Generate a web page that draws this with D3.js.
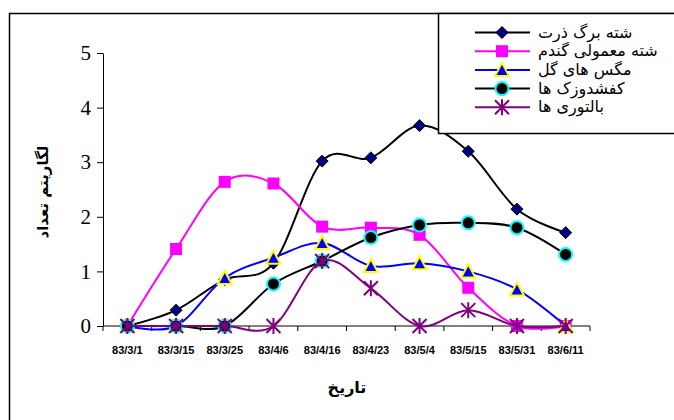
<!DOCTYPE html>
<html>
<head>
<meta charset="utf-8">
<script src="https://d3js.org/d3.v7.min.js"></script>
<style>
  body { margin: 0; background: #fff; }
  svg { display: block; }
</style>
</head>
<body>
<svg></svg>
<script>
// dates (Persian calendar) along the x axis
var dates = ['83/3/1', '83/3/15', '83/3/25', '83/4/6', '83/4/16', '83/4/23', '83/5/4', '83/5/15', '83/5/31', '83/6/11'];

// log of counts for each group
var shetehBargZorrat = [0, 0.29, 0.85, 1.15, 3.02, 3.08, 3.67, 3.2, 2.14, 1.71];
var shetehMamooliGandom = [0, 1.41, 2.64, 2.61, 1.82, 1.8, 1.67, 0.7, 0, 0];
var magasHayeGol = [0, 0, 0.88, 1.25, 1.52, 1.1, 1.15, 1.0, 0.67, 0];
var kafshdoozakHa = [0, 0, 0, 0.77, 1.19, 1.62, 1.85, 1.89, 1.8, 1.31];
var baltooriHa = [0, 0, 0, 0, 1.19, 0.69, 0, 0.29, 0, 0];

var seriesNames = ['شته برگ ذرت', 'شته معمولی گندم', 'مگس های گل', 'کفشدوزک ها', 'بالتوری ها'];
var yTicks = [0, 1, 2, 3, 4, 5];

var W = 674, H = 420;
var svg = d3.select('svg').attr('width', W).attr('height', H);

// outer chart border (right/bottom edges fall off the picture)
svg.append('rect')
  .attr('x', 9.5).attr('y', 13.5)
  .attr('width', 720).attr('height', 460)
  .attr('fill', 'none').attr('stroke', '#000').attr('stroke-width', 1.5);

var x = d3.scaleBand().domain(dates).range([103, 590]);
var y = d3.scaleLinear().domain([0, 5]).range([326, 53]);

var styles = [
  { line: '#000', marker: 'diamond', fill: '#000080', stroke: '#000' },
  { line: '#ff00ff', marker: 'square', fill: '#ff00ff', stroke: '#ff00ff' },
  { line: '#0000ff', marker: 'triangle', fill: '#0000ff', stroke: '#ffff00' },
  { line: '#000', marker: 'circle', fill: '#000', stroke: '#00ffff' },
  { line: '#800080', marker: 'star', fill: 'none', stroke: '#800080' }
];
var allSeries = [shetehBargZorrat, shetehMamooliGandom, magasHayeGol, kafshdoozakHa, baltooriHa];

// axes
var yAxis = d3.axisLeft(y).tickValues(yTicks).tickSize(6).tickSizeOuter(0).tickFormat(d3.format('d'));
var gy = svg.append('g').attr('transform', 'translate(103,0)').call(yAxis);
gy.selectAll('text')
  .attr('x', -12)
  .style('font-family', '"Liberation Serif", "Times New Roman", serif')
  .style('font-size', '21px')
  .attr('fill', '#000');

var gx = svg.append('g').attr('transform', 'translate(0,326)');
gx.append('line').attr('x1', 103).attr('x2', 590).attr('stroke', '#000');
gx.selectAll('line.tk')
  .data(dates.concat(['end']))
  .enter().append('line')
  .attr('class', 'tk')
  .attr('x1', (d, i) => 103 + i * x.step())
  .attr('x2', (d, i) => 103 + i * x.step())
  .attr('y1', 0).attr('y2', 5)
  .attr('stroke', '#000');
gx.selectAll('text')
  .data(dates)
  .enter().append('text')
  .attr('x', d => x(d) + x.bandwidth() / 2)
  .attr('y', 28)
  .attr('text-anchor', 'middle')
  .style('font-family', '"Liberation Sans", Arial, sans-serif')
  .style('font-weight', 'bold')
  .style('font-size', '11px')
  .text(d => d);

// axis titles
svg.append('text')
  .attr('x', 347).attr('y', 393)
  .attr('text-anchor', 'middle')
  .style('font-family', '"DejaVu Sans", sans-serif')
  .style('font-weight', 'bold')
  .style('font-size', '16px')
  .text('تاریخ');
svg.append('text')
  .attr('transform', 'translate(48,192) rotate(-90)')
  .attr('text-anchor', 'middle')
  .style('font-family', '"DejaVu Sans", sans-serif')
  .style('font-weight', 'bold')
  .style('font-size', '15px')
  .text('لگاریتم تعداد');

function drawMarker(g, type, s) {
  if (type === 'diamond') {
    g.append('path').attr('d', 'M0,-6L6,0L0,6L-6,0Z')
      .attr('fill', s.fill).attr('stroke', s.stroke).attr('stroke-width', 1);
  } else if (type === 'square') {
    g.append('rect').attr('x', -6).attr('y', -6).attr('width', 12).attr('height', 12)
      .attr('fill', s.fill);
  } else if (type === 'triangle') {
    g.append('path').attr('d', 'M0,-7L7,6L-7,6Z')
      .attr('fill', s.fill).attr('stroke', s.stroke).attr('stroke-width', 2);
  } else if (type === 'circle') {
    g.append('circle').attr('r', 6.5)
      .attr('fill', s.fill).attr('stroke', s.stroke).attr('stroke-width', 2);
  } else {
    g.append('path').attr('d', 'M0,-8V8M-7,-7L7,7M-7,7L7,-7')
      .attr('stroke', s.stroke).attr('stroke-width', 2).attr('fill', 'none');
  }
}

var line = d3.line()
  .x((d, i) => x(dates[i]) + x.bandwidth() / 2)
  .y(d => y(d))
  .curve(d3.curveCardinal.tension(0));

allSeries.forEach((vals, k) => {
  var s = styles[k];
  var g = svg.append('g');
  g.append('path')
    .attr('d', line(vals))
    .attr('fill', 'none')
    .attr('stroke', s.line)
    .attr('stroke-width', 2);
  vals.forEach((v, i) => {
    var m = g.append('g').attr('transform', 'translate(' + (x(dates[i]) + x.bandwidth() / 2) + ',' + y(v) + ')');
    drawMarker(m, s.marker, s);
  });
});

// legend
var lg = svg.append('g');
lg.append('rect')
  .attr('x', 438.5).attr('y', 13.5)
  .attr('width', 300).attr('height', 120)
  .attr('fill', '#fff').attr('stroke', '#000').attr('stroke-width', 1.5);
seriesNames.forEach((name, k) => {
  var s = styles[k];
  var ly = 32.5 + k * 18.7;
  lg.append('line').attr('x1', 475).attr('x2', 530).attr('y1', ly).attr('y2', ly)
    .attr('stroke', s.line).attr('stroke-width', 2);
  drawMarker(lg.append('g').attr('transform', 'translate(502,' + ly + ')'), s.marker, s);
  lg.append('text')
    .attr('x', 538).attr('y', ly + 5)
    .style('font-family', '"DejaVu Sans", sans-serif')
    .style('font-size', '16px')
    .text(name);
});
</script>
</body>
</html>
